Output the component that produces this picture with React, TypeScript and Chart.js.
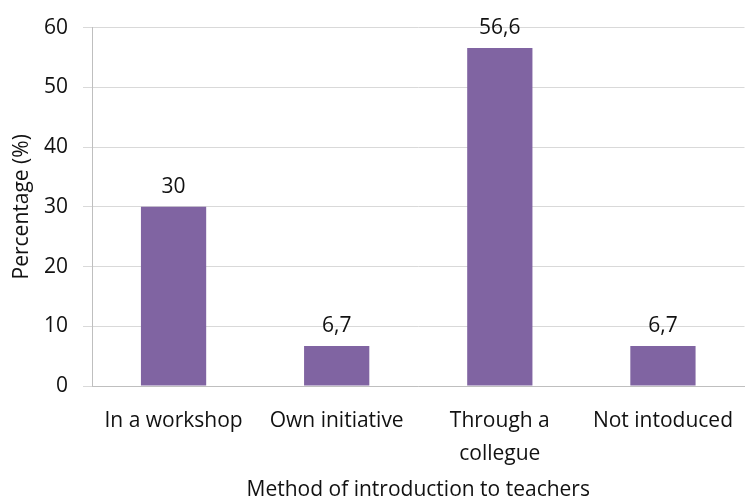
import React, { useEffect, useRef } from "react";
import { Chart, registerables } from "chart.js";

Chart.register(...registerables);

const categories: (string | string[])[] = ["In a workshop", "Own initiative", ["Through a", "collegue"], "Not intoduced"];
const values: number[] = [30, 6.7, 56.6, 6.7];
const valueLabels: string[] = ["30", "6,7", "56,6", "6,7"];
const yTicks: number[] = [0, 10, 20, 30, 40, 50, 60];
const xTitle = "Method of introduction to teachers";
const yTitle = "Percentage (%)";

const FONT = "'Open Sans', sans-serif";

const labelPlugin = {
  id: "valueLabels",
  afterDatasetsDraw(chart: any) {
    const ctx = chart.ctx;
    const meta = chart.getDatasetMeta(0);
    ctx.save();
    ctx.font = `21px ${FONT}`;
    ctx.fillStyle = "#111";
    ctx.textAlign = "center";
    ctx.textBaseline = "middle";
    meta.data.forEach((bar: any, i: number) => {
      ctx.fillText(valueLabels[i], bar.x, bar.y - 20);
    });
    ctx.restore();
  },
};

export default function App() {
  const ref = useRef<HTMLCanvasElement>(null);
  useEffect(() => {
    if (!ref.current) return;
    const chart = new Chart(ref.current, {
      type: "bar",
      data: {
        labels: categories,
        datasets: [
          {
            data: values,
            backgroundColor: "#8064A2",
            barPercentage: 0.4,
            categoryPercentage: 1,
          },
        ],
      },
      options: {
        animation: false,
        responsive: false,
        devicePixelRatio: 1,
        layout: { padding: { top: 13, left: 4, right: 0, bottom: 0 } },
        plugins: { legend: { display: false }, tooltip: { enabled: false } },
        scales: {
          x: {
            afterFit: (axis: any) => {
              axis.height = 115;
            },
            grid: { display: false, drawTicks: false },
            border: { color: "#BFBFBF", width: 1 },
            ticks: {
              color: "#111",
              font: { family: FONT, size: 21, lineHeight: 1.6 },
              padding: 18,
              maxRotation: 0,
              autoSkip: false,
            },
            title: {
              display: true,
              text: xTitle,
              color: "#111",
              font: { family: FONT, size: 21, lineHeight: 1.0 },
              padding: { top: 12, bottom: 0 },
            },
          },
          y: {
            afterFit: (axis: any) => {
              axis.width = 88;
            },
            min: 0,
            max: 60,
            afterBuildTicks: (axis: any) => {
              axis.ticks = yTicks.map((v) => ({ value: v }));
            },
            grid: { color: "#D9D9D9", tickLength: 9, tickColor: "#D9D9D9" },
            border: { color: "#BFBFBF", width: 1 },
            ticks: {
              color: "#111",
              font: { family: FONT, size: 21 },
              padding: 15,
            },
            title: {
              display: true,
              text: yTitle,
              color: "#111",
              font: { family: FONT, size: 21, lineHeight: 1.2 },
              padding: { top: 5, bottom: 8 },
            },
          },
        },
      },
      plugins: [labelPlugin],
    });
    return () => chart.destroy();
  }, []);
  return (
    <div style={{ position: "fixed", left: 0, top: 0, width: 745, height: 501, overflow: "hidden", background: "#fff" }}>
      <canvas ref={ref} width={751} height={501} style={{ display: "block" }} />
    </div>
  );
}
